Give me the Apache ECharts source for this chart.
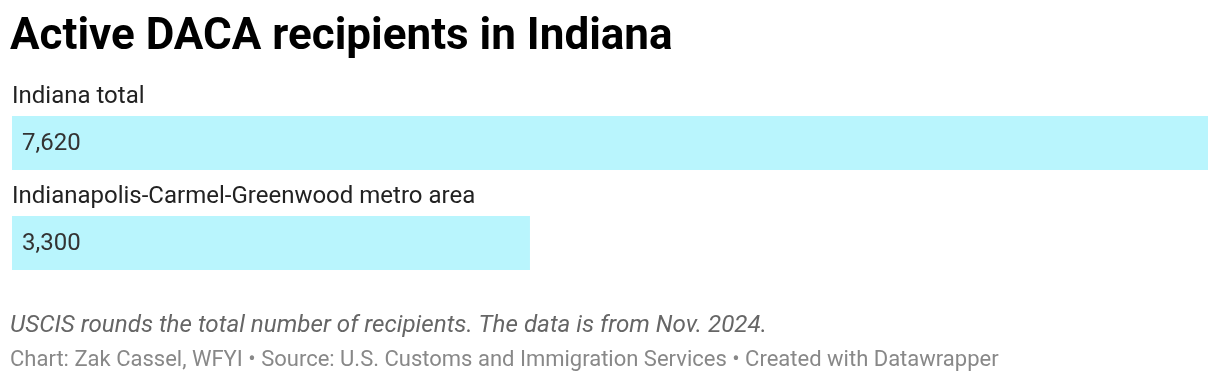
<!DOCTYPE html>
<html>
<head>
<meta charset="utf-8">
<script src="https://cdn.jsdelivr.net/npm/echarts@6/dist/echarts.min.js"></script>
<style>
  html, body { margin: 0; padding: 0; background: #ffffff; }
  #chart { width: 1220px; height: 384px; }
</style>
</head>
<body>
<div id="chart"></div>
<script>
const titleText = 'Active DACA recipients in Indiana';
const categories = ['Indiana total', 'Indianapolis-Carmel-Greenwood metro area'];
const values = [7620, 3300];
const footnote = 'USCIS rounds the total number of recipients. The data is from Nov. 2024.';
const sourceLine = 'Chart: Zak Cassel, WFYI \u2022 Source: U.S. Customs and Immigration Services \u2022 Created with Datawrapper';

const chart = echarts.init(document.getElementById('chart'), null, { renderer: 'canvas' });
const font = 'Roboto, "Noto Sans", sans-serif';

chart.setOption({
  animation: false,
  backgroundColor: '#ffffff',
  grid: { left: 12, right: 12, top: 93, height: 200, containLabel: false },
  xAxis: { type: 'value', min: 0, max: values[0], show: false },
  yAxis: { type: 'category', data: categories, inverse: true, show: false },
  series: [
    {
      type: 'bar',
      data: values,
      barWidth: 54,
      itemStyle: { color: '#b9f5fd' },
      label: {
        show: true,
        position: 'insideLeft',
        distance: 10,
        offset: [0, 1],
        color: '#333333',
        fontFamily: font,
        fontSize: 24,
        formatter: p => p.value.toLocaleString('en-US')
      },
      z: 2
    },
    {
      type: 'bar',
      data: values,
      barWidth: 54,
      barGap: '-100%',
      itemStyle: { color: 'rgba(0,0,0,0)' },
      label: {
        show: true,
        position: [0, -19],
        align: 'left',
        verticalAlign: 'middle',
        color: '#222222',
        fontFamily: font,
        fontSize: 24,
        formatter: p => p.name
      },
      silent: true,
      z: 3
    }
  ],
  graphic: [
    {
      type: 'text', left: 10, top: 38 - 22,
      style: { text: titleText, fontFamily: font, fontWeight: 'bold', fontSize: 44, fill: '#000000', verticalAlign: 'top', lineHeight: 44 }
    },
    {
      type: 'text', left: 10, top: 326 - 13,
      style: { text: footnote, fontFamily: font, fontStyle: 'italic', fontSize: 24.2, fill: '#666666', verticalAlign: 'top', lineHeight: 26 }
    },
    {
      type: 'text', left: 10, top: 360 - 12,
      style: { text: sourceLine, fontFamily: font, fontSize: 22, fill: '#888888', verticalAlign: 'top', lineHeight: 24 }
    }
  ]
});
</script>
</body>
</html>
